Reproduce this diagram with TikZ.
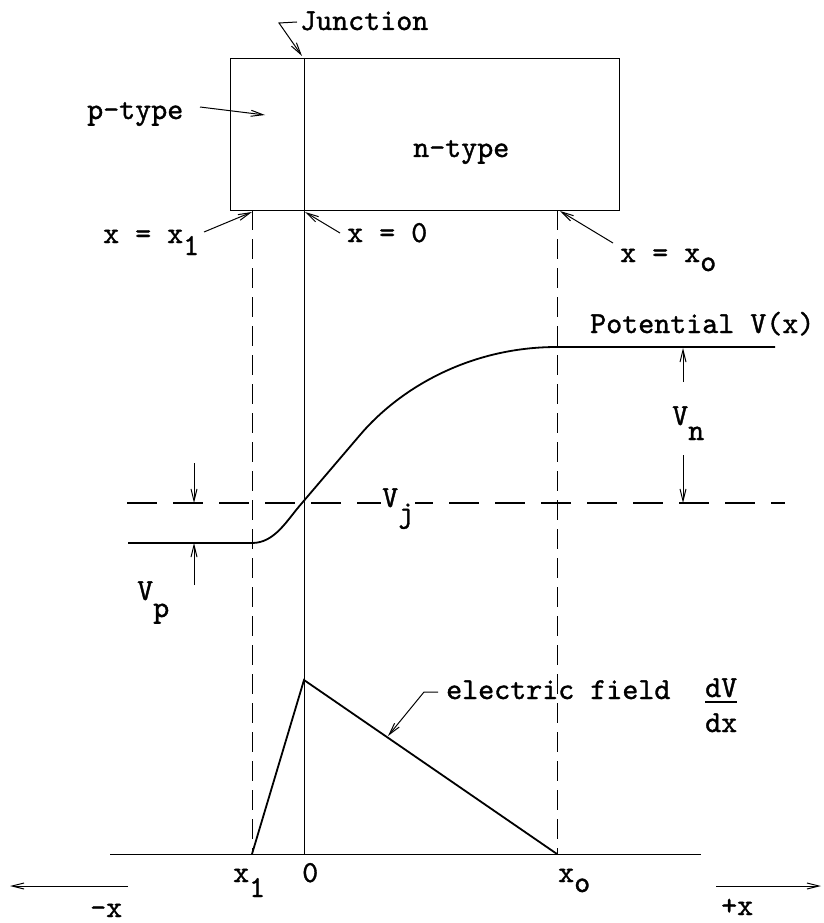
\documentclass[tikz,border=0pt]{standalone}
\usepackage{fontspec}
\newfontfamily\twfont{lmmono10-regular.otf}[FakeBold=1.2]
\usetikzlibrary{arrows.meta}
\begin{document}
\begin{tikzpicture}[x=1pt,y=-1pt,
  txt/.style={inner sep=0pt,anchor=base west,font=\fontsize{30.5}{36}\selectfont\twfont},
  thinline/.style={line width=1pt},
  boxline/.style={line width=1.3pt},
  curveline/.style={line width=1.8pt},
  vdash/.style={line width=1pt,dash pattern=on 20pt off 9pt},
  hdash/.style={line width=1.1pt,dash pattern=on 30pt off 16pt},
  arr/.style={line width=1pt,-{Straight Barb[length=12pt,width=6pt]}}]
\useasboundingbox (0,0) rectangle (823,923);
% box
\node[boxline,draw,minimum width=389pt,minimum height=152pt,anchor=north west,inner sep=0pt] (box) at (230,58) {};
% coordinates
\coordinate (jtop) at (304,58);
\coordinate (jbot) at (304,854);
\coordinate (xlt) at (252,210);
\coordinate (xlb) at (252,854);
\coordinate (xot) at (557,210);
\coordinate (xob) at (557,854);
\coordinate (peak) at (304,680);
\coordinate (axl) at (110,854);
\coordinate (axr) at (701,854);
% vertical lines
\draw[thinline] (jtop) -- (jbot);
\draw[vdash] (xlt) -- (xlb);
\draw[vdash] (xot) -- (xob);
% labels on box
\node[txt] (junction) at (300,30) {Junction};
\coordinate (jl0) at (297,22);
\coordinate (jl1) at (279,23);
\coordinate (jtip) at (302,56);
\draw[arr] (jl0) -- (jl1) -- (jtip);
\node[txt] (ptype) at (87,119) {p-type};
\coordinate (pa0) at (200,107);
\coordinate (pa1) at (265,115);
\draw[arr] (pa0) -- (pa1);
\node[txt] (ntype) at (413,157) {n-type};
\node[txt] (xeqx1) at (103,243) {x = x\raisebox{-12pt}{1}};
\coordinate (x1a0) at (204,232);
\coordinate (x1a1) at (252,212);
\draw[arr] (x1a0) -- (x1a1);
\node[txt] (xeq0) at (347,242) {x = 0};
\coordinate (x0a0) at (340,233);
\coordinate (x0a1) at (305,212);
\draw[arr] (x0a0) -- (x0a1);
\node[txt] (xeqxo) at (620,262) {x = x\raisebox{-9pt}{o}};
\coordinate (xoa0) at (613,243);
\coordinate (xoa1) at (560,211);
\draw[arr] (xoa0) -- (xoa1);
% potential
\node[txt] (pot) at (590,333) {Potential V(x)};
\coordinate (vl0) at (128,543);
\coordinate (vl1) at (252,543);
\coordinate (vmid) at (302,503);
\coordinate (vb) at (360,435);
\coordinate (vh0) at (557,347);
\coordinate (vh1) at (775,347);
\draw[curveline] (vl0) -- (vl1) .. controls (275,543) and (287,520) .. (vmid)
  -- (vb) .. controls (400,388) and (470,347) .. (vh0) -- (vh1);
% Vj dashed line
\coordinate (dl) at (127,503);
\coordinate (dr) at (785,503);
\draw[hdash] (dl) -- (dr);
\node[txt,fill=white,inner sep=1pt] (vj) at (381,507) {V\raisebox{-15pt}{j}};
% Vn
\node[txt] (vn) at (672,425) {V\raisebox{-15pt}{n}};
\coordinate (vnu0) at (683,382);
\coordinate (vnu1) at (683,348);
\coordinate (vnd0) at (683,455);
\coordinate (vnd1) at (683,503);
\draw[arr] (vnu0) -- (vnu1);
\draw[arr] (vnd0) -- (vnd1);
% Vp
\node[txt] (vp) at (137,600) {V\raisebox{-17pt}{p}};
\coordinate (vpd0) at (194,463);
\coordinate (vpd1) at (194,503);
\coordinate (vpu0) at (194,585);
\coordinate (vpu1) at (194,543);
\draw[arr] (vpd0) -- (vpd1);
\draw[arr] (vpu0) -- (vpu1);
% field
\draw[thinline] (axl) -- (axr);
\draw[curveline] (xlb) -- (peak) -- (xob);
\node[txt] (efield) at (446,699) {electric field};
\coordinate (ef0) at (438,692);
\coordinate (ef1) at (424,692);
\coordinate (ef2) at (388,736);
\draw[arr] (ef0) -- (ef1) -- (ef2);
\node[txt] (dv) at (705,697) {dV};
\node[txt] (dx) at (705,732) {dx};
\draw[line width=2pt] (dv.south west) ++(0,5) coordinate (bar0) -- ++(32,0) coordinate (bar1);
% axis labels
\node[txt] (ax1) at (233,882) {x\raisebox{-15pt}{1}};
\node[txt] (ax0) at (302,882) {0};
\node[txt] (axo) at (558,882) {x\raisebox{-10pt}{o}};
\coordinate (la0) at (128,886);
\coordinate (la1) at (10,886);
\draw[arr] (la0) -- (la1);
\node[txt] (mx) at (90,917) {-x};
\coordinate (ra0) at (716,886);
\coordinate (ra1) at (821,886);
\draw[arr] (ra0) -- (ra1);
\node[txt] (px) at (721,915) {+x};
\end{tikzpicture}
\end{document}
